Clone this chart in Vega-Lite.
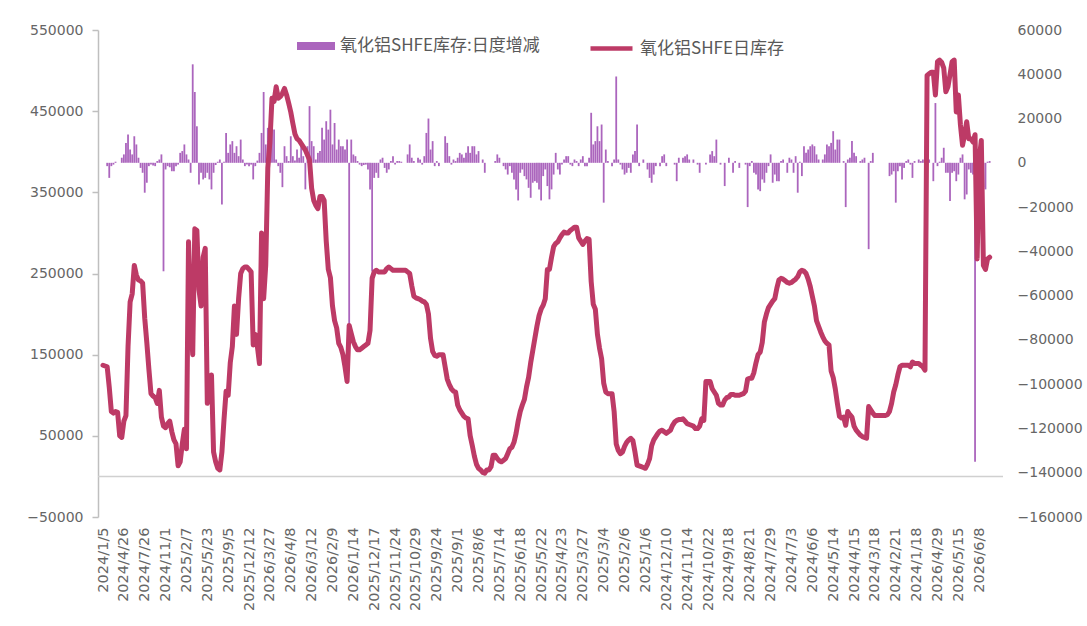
{
  "$schema": "https://vega.github.io/schema/vega-lite/v6.json",
  "width": 905,
  "height": 487,
  "autosize": {"type": "none"},
  "padding": {"left": 98, "top": 30, "right": 84, "bottom": 109},
  "background": "white",
  "config": {
    "view": {"stroke": null},
    "axis": {"labelFont": "DejaVu Sans", "labelFontSize": 14, "labelColor": "#666666", "grid": false, "title": null},
    "legend": {"labelFont": "Noto Sans CJK SC", "labelFontSize": 16, "labelColor": "#595959", "padding": 0, "offset": 0, "labelLimit": 400}
  },
  "datasets": {
    "line": [
      {"i":0,"v":137000},{"i":1,"v":136000},{"i":2,"v":135000},{"i":3,"v":110000},{"i":4,"v":80000},{"i":5,"v":78000},{"i":6,"v":80000},{"i":7,"v":79000},{"i":8,"v":50000},{"i":9,"v":48000},
      {"i":10,"v":68000},{"i":11,"v":75000},{"i":12,"v":160000},{"i":13,"v":215000},{"i":14,"v":225000},{"i":15,"v":260000},{"i":16,"v":248000},{"i":17,"v":242000},{"i":18,"v":241000},{"i":19,"v":238000},
      {"i":20,"v":195000},{"i":21,"v":165000},{"i":22,"v":132000},{"i":23,"v":102000},{"i":24,"v":99000},{"i":25,"v":97000},{"i":26,"v":90000},{"i":27,"v":106000},{"i":28,"v":73000},{"i":29,"v":62000},
      {"i":30,"v":60000},{"i":31,"v":65000},{"i":32,"v":68000},{"i":33,"v":55000},{"i":34,"v":45000},{"i":35,"v":40000},{"i":36,"v":13000},{"i":37,"v":18000},{"i":38,"v":40000},{"i":39,"v":58000},
      {"i":40,"v":34000},{"i":41,"v":289000},{"i":42,"v":200000},{"i":43,"v":150000},{"i":44,"v":305000},{"i":45,"v":303000},{"i":46,"v":230000},{"i":47,"v":210000},{"i":48,"v":270000},{"i":49,"v":281000},
      {"i":50,"v":90000},{"i":51,"v":100000},{"i":52,"v":125000},{"i":53,"v":30000},{"i":54,"v":18000},{"i":55,"v":10000},{"i":56,"v":8000},{"i":57,"v":30000},{"i":58,"v":70000},{"i":59,"v":105000},
      {"i":60,"v":100000},{"i":61,"v":140000},{"i":62,"v":160000},{"i":63,"v":210000},{"i":64,"v":175000},{"i":65,"v":219000},{"i":66,"v":250000},{"i":67,"v":256000},{"i":68,"v":258000},{"i":69,"v":258000},
      {"i":70,"v":255000},{"i":71,"v":252000},{"i":72,"v":162000},{"i":73,"v":175000},{"i":74,"v":160000},{"i":75,"v":139000},{"i":76,"v":300000},{"i":77,"v":219000},{"i":78,"v":260000},{"i":79,"v":380000},
      {"i":80,"v":412000},{"i":81,"v":466000},{"i":82,"v":462000},{"i":83,"v":480000},{"i":84,"v":466000},{"i":85,"v":468000},{"i":86,"v":472000},{"i":87,"v":478000},{"i":88,"v":470000},{"i":89,"v":460000},
      {"i":90,"v":449000},{"i":91,"v":435000},{"i":92,"v":422000},{"i":93,"v":416000},{"i":94,"v":414000},{"i":95,"v":410000},{"i":96,"v":406000},{"i":97,"v":402000},{"i":98,"v":396000},{"i":99,"v":390000},
      {"i":100,"v":355000},{"i":101,"v":340000},{"i":102,"v":334000},{"i":103,"v":330000},{"i":104,"v":345000},{"i":105,"v":345000},{"i":106,"v":340000},{"i":107,"v":290000},{"i":108,"v":255000},{"i":109,"v":245000},
      {"i":110,"v":210000},{"i":111,"v":192000},{"i":112,"v":183000},{"i":113,"v":164000},{"i":114,"v":159000},{"i":115,"v":150000},{"i":116,"v":135000},{"i":117,"v":117000},{"i":118,"v":186000},{"i":119,"v":176000},
      {"i":120,"v":166000},{"i":121,"v":160000},{"i":122,"v":156000},{"i":123,"v":156000},{"i":124,"v":158000},{"i":125,"v":160000},{"i":126,"v":162000},{"i":127,"v":164000},{"i":128,"v":180000},{"i":129,"v":244000},
      {"i":130,"v":252000},{"i":131,"v":254000},{"i":132,"v":252000},{"i":133,"v":252000},{"i":134,"v":252000},{"i":135,"v":252000},{"i":136,"v":256000},{"i":137,"v":258000},{"i":138,"v":256000},{"i":139,"v":254000},
      {"i":140,"v":254000},{"i":141,"v":254000},{"i":142,"v":254000},{"i":143,"v":254000},{"i":144,"v":254000},{"i":145,"v":254000},{"i":146,"v":252000},{"i":147,"v":250000},{"i":148,"v":235000},{"i":149,"v":222000},
      {"i":150,"v":220000},{"i":151,"v":219000},{"i":152,"v":218000},{"i":153,"v":216000},{"i":154,"v":215000},{"i":155,"v":212000},{"i":156,"v":200000},{"i":157,"v":170000},{"i":158,"v":154000},{"i":159,"v":149000},
      {"i":160,"v":148000},{"i":161,"v":150000},{"i":162,"v":150000},{"i":163,"v":150000},{"i":164,"v":135000},{"i":165,"v":120000},{"i":166,"v":113000},{"i":167,"v":108000},{"i":168,"v":105000},{"i":169,"v":104000},
      {"i":170,"v":88000},{"i":171,"v":82000},{"i":172,"v":78000},{"i":173,"v":74000},{"i":174,"v":72000},{"i":175,"v":71000},{"i":176,"v":50000},{"i":177,"v":38000},{"i":178,"v":25000},{"i":179,"v":15000},
      {"i":180,"v":10000},{"i":181,"v":8000},{"i":182,"v":5000},{"i":183,"v":4000},{"i":184,"v":8000},{"i":185,"v":8000},{"i":186,"v":12000},{"i":187,"v":26000},{"i":188,"v":26000},{"i":189,"v":22000},
      {"i":190,"v":19000},{"i":191,"v":18000},{"i":192,"v":20000},{"i":193,"v":22000},{"i":194,"v":28000},{"i":195,"v":34000},{"i":196,"v":36000},{"i":197,"v":42000},{"i":198,"v":53000},{"i":199,"v":68000},
      {"i":200,"v":80000},{"i":201,"v":88000},{"i":202,"v":95000},{"i":203,"v":110000},{"i":204,"v":122000},{"i":205,"v":140000},{"i":206,"v":155000},{"i":207,"v":170000},{"i":208,"v":185000},{"i":209,"v":198000},
      {"i":210,"v":206000},{"i":211,"v":211000},{"i":212,"v":219000},{"i":213,"v":255000},{"i":214,"v":255000},{"i":215,"v":270000},{"i":216,"v":283000},{"i":217,"v":287000},{"i":218,"v":289000},{"i":219,"v":294000},
      {"i":220,"v":298000},{"i":221,"v":301000},{"i":222,"v":300000},{"i":223,"v":300000},{"i":224,"v":303000},{"i":225,"v":305000},{"i":226,"v":307000},{"i":227,"v":307000},{"i":228,"v":294000},{"i":229,"v":290000},
      {"i":230,"v":286000},{"i":231,"v":290000},{"i":232,"v":293000},{"i":233,"v":292000},{"i":234,"v":240000},{"i":235,"v":212000},{"i":236,"v":206000},{"i":237,"v":175000},{"i":238,"v":158000},{"i":239,"v":145000},
      {"i":240,"v":115000},{"i":241,"v":104000},{"i":242,"v":102000},{"i":243,"v":102000},{"i":244,"v":102000},{"i":245,"v":80000},{"i":246,"v":40000},{"i":247,"v":32000},{"i":248,"v":28000},{"i":249,"v":30000},
      {"i":250,"v":37000},{"i":251,"v":42000},{"i":252,"v":45000},{"i":253,"v":47000},{"i":254,"v":44000},{"i":255,"v":30000},{"i":256,"v":14000},{"i":257,"v":13000},{"i":258,"v":12000},{"i":259,"v":11000},
      {"i":260,"v":10000},{"i":261,"v":15000},{"i":262,"v":22000},{"i":263,"v":38000},{"i":264,"v":45000},{"i":265,"v":49000},{"i":266,"v":53000},{"i":267,"v":56000},{"i":268,"v":57000},{"i":269,"v":55000},
      {"i":270,"v":53000},{"i":271,"v":55000},{"i":272,"v":57000},{"i":273,"v":63000},{"i":274,"v":67000},{"i":275,"v":69000},{"i":276,"v":70000},{"i":277,"v":70000},{"i":278,"v":71000},{"i":279,"v":68000},
      {"i":280,"v":65000},{"i":281,"v":64000},{"i":282,"v":63000},{"i":283,"v":62000},{"i":284,"v":59000},{"i":285,"v":59000},{"i":286,"v":62000},{"i":287,"v":71000},{"i":288,"v":69000},{"i":289,"v":117000},
      {"i":290,"v":117000},{"i":291,"v":117000},{"i":292,"v":108000},{"i":293,"v":104000},{"i":294,"v":100000},{"i":295,"v":90000},{"i":296,"v":88000},{"i":297,"v":88000},{"i":298,"v":94000},{"i":299,"v":97000},
      {"i":300,"v":98000},{"i":301,"v":101000},{"i":302,"v":101000},{"i":303,"v":100000},{"i":304,"v":100000},{"i":305,"v":100000},{"i":306,"v":101000},{"i":307,"v":102000},{"i":308,"v":105000},{"i":309,"v":120000},
      {"i":310,"v":121000},{"i":311,"v":121000},{"i":312,"v":128000},{"i":313,"v":140000},{"i":314,"v":150000},{"i":315,"v":153000},{"i":316,"v":165000},{"i":317,"v":190000},{"i":318,"v":200000},{"i":319,"v":208000},
      {"i":320,"v":212000},{"i":321,"v":216000},{"i":322,"v":219000},{"i":323,"v":232000},{"i":324,"v":242000},{"i":325,"v":244000},{"i":326,"v":243000},{"i":327,"v":241000},{"i":328,"v":239000},{"i":329,"v":238000},
      {"i":330,"v":239000},{"i":331,"v":241000},{"i":332,"v":243000},{"i":333,"v":246000},{"i":334,"v":252000},{"i":335,"v":254000},{"i":336,"v":253000},{"i":337,"v":250000},{"i":338,"v":243000},{"i":339,"v":234000},
      {"i":340,"v":222000},{"i":341,"v":210000},{"i":342,"v":192000},{"i":343,"v":185000},{"i":344,"v":178000},{"i":345,"v":172000},{"i":346,"v":167000},{"i":347,"v":164000},{"i":348,"v":162000},{"i":349,"v":130000},
      {"i":350,"v":122000},{"i":351,"v":108000},{"i":352,"v":90000},{"i":353,"v":74000},{"i":354,"v":72000},{"i":355,"v":73000},{"i":356,"v":63000},{"i":357,"v":80000},{"i":358,"v":76000},{"i":359,"v":73000},
      {"i":360,"v":62000},{"i":361,"v":57000},{"i":362,"v":54000},{"i":363,"v":51000},{"i":364,"v":49000},{"i":365,"v":48000},{"i":366,"v":47000},{"i":367,"v":86000},{"i":368,"v":82000},{"i":369,"v":78000},
      {"i":370,"v":75000},{"i":371,"v":75000},{"i":372,"v":75000},{"i":373,"v":75000},{"i":374,"v":75000},{"i":375,"v":75000},{"i":376,"v":76000},{"i":377,"v":80000},{"i":378,"v":90000},{"i":379,"v":104000},
      {"i":380,"v":113000},{"i":381,"v":125000},{"i":382,"v":135000},{"i":383,"v":137000},{"i":384,"v":137000},{"i":385,"v":137000},{"i":386,"v":137000},{"i":387,"v":135000},{"i":388,"v":141000},{"i":389,"v":139000},
      {"i":390,"v":139000},{"i":391,"v":139000},{"i":392,"v":137000},{"i":393,"v":135000},{"i":394,"v":131000},{"i":395,"v":494000},{"i":396,"v":496000},{"i":397,"v":498000},{"i":398,"v":498000},{"i":399,"v":470000},
      {"i":400,"v":511000},{"i":401,"v":513000},{"i":402,"v":510000},{"i":403,"v":503000},{"i":404,"v":474000},{"i":405,"v":480000},{"i":406,"v":495000},{"i":407,"v":511000},{"i":408,"v":513000},{"i":409,"v":449000},
      {"i":410,"v":470000},{"i":411,"v":433000},{"i":412,"v":408000},{"i":413,"v":421000},{"i":414,"v":437000},{"i":415,"v":416000},{"i":416,"v":416000},{"i":417,"v":412000},{"i":418,"v":421000},{"i":419,"v":268000},
      {"i":420,"v":390000},{"i":421,"v":414000},{"i":422,"v":260000},{"i":423,"v":255000},{"i":424,"v":268000},{"i":425,"v":270000}
    ],
    "bars": [
      {"i":2,"b":-1500},{"i":3,"b":-6800},{"i":4,"b":-1500},{"i":5,"b":-800},{"i":6,"b":500},{"i":9,"b":2300},{"i":10,"b":3800},{"i":11,"b":9000},{"i":12,"b":12800},{"i":13,"b":6000},
      {"i":14,"b":3800},{"i":15,"b":12000},{"i":16,"b":8300},{"i":17,"b":2300},{"i":18,"b":-2300},{"i":19,"b":-4500},{"i":20,"b":-13500},{"i":21,"b":-9000},{"i":22,"b":-1500},{"i":23,"b":-800},
      {"i":24,"b":-1200},{"i":25,"b":-1500},{"i":26,"b":800},{"i":27,"b":1500},{"i":28,"b":3800},{"i":29,"b":-49000},{"i":30,"b":-3000},{"i":31,"b":-1500},{"i":32,"b":-2000},{"i":33,"b":-3800},
      {"i":34,"b":-3800},{"i":35,"b":-1500},{"i":36,"b":-800},{"i":37,"b":4500},{"i":38,"b":5300},{"i":39,"b":8300},{"i":40,"b":3800},{"i":41,"b":1500},{"i":42,"b":-4500},{"i":43,"b":44500},
      {"i":44,"b":32000},{"i":45,"b":16500},{"i":46,"b":-9800},{"i":47,"b":-4500},{"i":48,"b":-7500},{"i":49,"b":-6800},{"i":50,"b":-4500},{"i":51,"b":-7500},{"i":52,"b":-12000},{"i":53,"b":-4500},
      {"i":54,"b":-1000},{"i":55,"b":500},{"i":56,"b":1500},{"i":57,"b":-18800},{"i":58,"b":500},{"i":59,"b":13500},{"i":60,"b":4500},{"i":61,"b":8300},{"i":62,"b":9800},{"i":63,"b":4500},
      {"i":64,"b":7500},{"i":65,"b":3000},{"i":66,"b":10500},{"i":67,"b":1500},{"i":68,"b":-1500},{"i":69,"b":-800},{"i":70,"b":-1500},{"i":71,"b":-800},{"i":72,"b":-7500},{"i":73,"b":-1500},
      {"i":74,"b":1000},{"i":75,"b":4500},{"i":76,"b":13500},{"i":77,"b":32000},{"i":78,"b":8300},{"i":79,"b":15800},{"i":80,"b":12000},{"i":81,"b":21000},{"i":82,"b":15000},{"i":83,"b":1500},
      {"i":84,"b":-1500},{"i":85,"b":-4500},{"i":86,"b":-11000},{"i":87,"b":7500},{"i":88,"b":3000},{"i":89,"b":800},{"i":90,"b":12000},{"i":91,"b":3000},{"i":92,"b":1000},{"i":93,"b":6000},
      {"i":94,"b":2300},{"i":95,"b":9000},{"i":96,"b":3000},{"i":97,"b":-12000},{"i":98,"b":7500},{"i":99,"b":25600},{"i":100,"b":9800},{"i":101,"b":7500},{"i":102,"b":1500},{"i":103,"b":4500},
      {"i":104,"b":5300},{"i":105,"b":15800},{"i":106,"b":10500},{"i":107,"b":18800},{"i":108,"b":15000},{"i":109,"b":24000},{"i":110,"b":8300},{"i":111,"b":18000},{"i":112,"b":6000},{"i":113,"b":10500},
      {"i":114,"b":7500},{"i":115,"b":7500},{"i":116,"b":6000},{"i":117,"b":10500},{"i":118,"b":-73000},{"i":119,"b":10500},{"i":120,"b":3800},{"i":121,"b":3000},{"i":122,"b":800},{"i":123,"b":-800},
      {"i":124,"b":-1500},{"i":125,"b":-1000},{"i":126,"b":-800},{"i":127,"b":-3000},{"i":128,"b":-12000},{"i":129,"b":-49000},{"i":130,"b":-6800},{"i":131,"b":-4500},{"i":132,"b":-6800},{"i":133,"b":1500},
      {"i":134,"b":2300},{"i":135,"b":-2300},{"i":136,"b":-4500},{"i":137,"b":-3000},{"i":138,"b":800},{"i":139,"b":3000},{"i":140,"b":-800},{"i":141,"b":800},{"i":142,"b":800},{"i":143,"b":500},
      {"i":146,"b":3800},{"i":147,"b":8300},{"i":148,"b":2300},{"i":149,"b":800},{"i":151,"b":2300},{"i":152,"b":1500},{"i":153,"b":-800},{"i":154,"b":3000},{"i":155,"b":13500},{"i":156,"b":20000},
      {"i":157,"b":6000},{"i":158,"b":9800},{"i":159,"b":-1500},{"i":160,"b":800},{"i":161,"b":-1500},{"i":164,"b":12000},{"i":165,"b":9000},{"i":166,"b":3000},{"i":167,"b":-800},{"i":168,"b":1500},
      {"i":169,"b":800},{"i":170,"b":2300},{"i":171,"b":4500},{"i":172,"b":3800},{"i":173,"b":2300},{"i":174,"b":4500},{"i":175,"b":7500},{"i":176,"b":4500},{"i":177,"b":7500},{"i":178,"b":7500},
      {"i":179,"b":3800},{"i":180,"b":5300},{"i":182,"b":1500},{"i":183,"b":-4500},{"i":188,"b":800},{"i":189,"b":3800},{"i":190,"b":2300},{"i":192,"b":-1500},{"i":193,"b":-3000},{"i":194,"b":-5300},
      {"i":195,"b":-1500},{"i":196,"b":-4500},{"i":197,"b":-7500},{"i":198,"b":-12000},{"i":199,"b":-17000},{"i":200,"b":-4500},{"i":201,"b":-3000},{"i":202,"b":-6000},{"i":203,"b":-7500},{"i":204,"b":-11300},
      {"i":205,"b":-15800},{"i":206,"b":-9000},{"i":207,"b":-8300},{"i":208,"b":-9000},{"i":209,"b":-12000},{"i":210,"b":-17000},{"i":211,"b":-6000},{"i":212,"b":-3000},{"i":213,"b":-10500},{"i":214,"b":-16500},
      {"i":215,"b":-12000},{"i":216,"b":-5300},{"i":217,"b":4500},{"i":218,"b":-3000},{"i":219,"b":-5300},{"i":220,"b":-800},{"i":221,"b":1500},{"i":222,"b":3000},{"i":223,"b":3000},{"i":224,"b":-800},
      {"i":225,"b":-1500},{"i":226,"b":1500},{"i":227,"b":800},{"i":228,"b":-1500},{"i":229,"b":1500},{"i":230,"b":3000},{"i":231,"b":-1500},{"i":232,"b":-1500},{"i":233,"b":2300},{"i":234,"b":22600},
      {"i":235,"b":8300},{"i":236,"b":9800},{"i":237,"b":16500},{"i":238,"b":9800},{"i":239,"b":17300},{"i":240,"b":-18000},{"i":241,"b":6000},{"i":242,"b":800},{"i":244,"b":-1500},{"i":245,"b":1500},
      {"i":246,"b":39000},{"i":247,"b":1500},{"i":248,"b":-800},{"i":249,"b":-3000},{"i":250,"b":-5300},{"i":251,"b":-4500},{"i":252,"b":-2300},{"i":253,"b":-4500},{"i":254,"b":3800},{"i":255,"b":5300},
      {"i":256,"b":17300},{"i":257,"b":-1500},{"i":259,"b":1500},{"i":261,"b":-3000},{"i":262,"b":-6800},{"i":263,"b":-9000},{"i":264,"b":-5300},{"i":265,"b":-1500},{"i":267,"b":-1500},{"i":268,"b":3000},
      {"i":269,"b":3800},{"i":270,"b":-1500},{"i":274,"b":-800},{"i":275,"b":-8300},{"i":276,"b":2300},{"i":278,"b":2300},{"i":279,"b":3000},{"i":280,"b":3800},{"i":281,"b":1500},{"i":283,"b":1500},
      {"i":285,"b":-800},{"i":286,"b":-4500},{"i":289,"b":-800},{"i":291,"b":3800},{"i":292,"b":5300},{"i":293,"b":3000},{"i":294,"b":10500},{"i":296,"b":-800},{"i":298,"b":-10500},{"i":300,"b":2300},
      {"i":302,"b":-4500},{"i":303,"b":800},{"i":305,"b":-2300},{"i":308,"b":-800},{"i":309,"b":-20000},{"i":310,"b":-1500},{"i":311,"b":800},{"i":312,"b":-4500},{"i":313,"b":-5300},{"i":314,"b":-12000},
      {"i":315,"b":-12800},{"i":316,"b":-7500},{"i":317,"b":-9000},{"i":318,"b":-4500},{"i":319,"b":-1500},{"i":320,"b":3800},{"i":321,"b":-9000},{"i":322,"b":-5300},{"i":323,"b":-8300},{"i":324,"b":-8300},
      {"i":325,"b":800},{"i":326,"b":1500},{"i":328,"b":-4500},{"i":329,"b":2300},{"i":330,"b":1500},{"i":331,"b":-4500},{"i":332,"b":3000},{"i":333,"b":-13500},{"i":334,"b":500},{"i":335,"b":-6000},
      {"i":336,"b":7500},{"i":337,"b":4500},{"i":338,"b":6000},{"i":339,"b":7500},{"i":340,"b":8300},{"i":341,"b":7500},{"i":342,"b":3800},{"i":343,"b":1500},{"i":345,"b":1500},{"i":346,"b":3800},
      {"i":347,"b":8300},{"i":348,"b":7500},{"i":349,"b":9000},{"i":350,"b":14300},{"i":351,"b":6000},{"i":352,"b":10500},{"i":353,"b":10500},{"i":355,"b":800},{"i":356,"b":-20000},{"i":357,"b":1500},
      {"i":358,"b":2300},{"i":359,"b":9800},{"i":360,"b":4500},{"i":361,"b":3000},{"i":363,"b":800},{"i":364,"b":1500},{"i":365,"b":2300},{"i":367,"b":-39000},{"i":368,"b":800},{"i":369,"b":4500},
      {"i":377,"b":-6000},{"i":378,"b":-5300},{"i":379,"b":-3800},{"i":380,"b":-18000},{"i":381,"b":-3800},{"i":382,"b":-1500},{"i":383,"b":-7500},{"i":384,"b":-2300},{"i":385,"b":800},{"i":386,"b":1500},
      {"i":387,"b":-800},{"i":388,"b":-6800},{"i":389,"b":800},{"i":391,"b":1500},{"i":392,"b":800},{"i":393,"b":1500},{"i":395,"b":-800},{"i":396,"b":1500},{"i":398,"b":-8300},{"i":399,"b":27000},
      {"i":400,"b":-1500},{"i":401,"b":500},{"i":402,"b":2300},{"i":403,"b":6800},{"i":404,"b":-4500},{"i":405,"b":-4500},{"i":406,"b":-17300},{"i":407,"b":-4500},{"i":408,"b":-3800},{"i":409,"b":-8300},
      {"i":410,"b":-5300},{"i":411,"b":2300},{"i":412,"b":3800},{"i":413,"b":-16500},{"i":414,"b":-14300},{"i":415,"b":-3000},{"i":416,"b":-4500},{"i":417,"b":-5300},{"i":418,"b":-135000},{"i":419,"b":-3000},
      {"i":420,"b":-3000},{"i":421,"b":-3000},{"i":422,"b":-11000},{"i":423,"b":-12000},{"i":424,"b":500},{"i":425,"b":800}
    ]
  },
  "layer": [
    {
      "data": {"name": "bars"},
      "mark": {"type": "bar", "size": 1.8},
      "encoding": {
        "x": {"field": "i", "type": "quantitative", "scale": {"domain": [0, 429], "nice": false, "zero": false},
          "axis": {
            "values": [0,10,20,30,40,50,60,70,80,90,100,110,120,130,140,150,160,170,180,190,200,210,220,230,240,250,260,270,280,290,300,310,320,330,340,350,360,370,380,390,400,410,420],
            "labelExpr": "['2024/1/5','2024/4/26','2024/7/26','2024/11/1','2025/2/7','2025/5/23','2025/9/5','2025/12/12','2026/3/27','2026/4/8','2026/3/12','2026/2/9','2026/1/14','2025/12/17','2025/11/24','2025/10/29','2025/9/24','2025/9/1','2025/8/6','2025/7/14','2025/6/18','2025/5/22','2025/4/23','2025/3/27','2025/3/4','2025/2/6','2025/1/6','2024/12/10','2024/11/14','2024/10/22','2024/9/18','2024/8/21','2024/7/29','2024/7/3','2024/6/6','2024/5/14','2024/4/15','2024/3/18','2024/2/21','2024/1/18','2026/4/29','2026/5/15','2026/6/8'][round(datum.value/10)]",
            "labelAngle": -90, "domain": false, "ticks": false, "labelPadding": 10,
            "labelOverlap": false, "labelFlush": false, "labelBound": false, "labelFontSize": 14.5
          }
        },
        "y": {"field": "b", "type": "quantitative", "scale": {"domain": [-160000, 60000], "nice": false, "zero": false},
          "axis": {"orient": "right", "values": [-160000,-140000,-120000,-100000,-80000,-60000,-40000,-20000,0,20000,40000,60000], "format": "d", "domain": false, "ticks": false, "labelPadding": 14}
        },
        "fill": {"datum": "氧化铝SHFE库存:日度增减", "scale": {"range": ["#AB65BD"]},
          "legend": {"orient": "none", "legendX": 199, "legendY": -3, "title": null, "symbolType": "M-1,-0.21H1V0.21H-1Z", "symbolSize": 1444, "symbolStrokeWidth": 0, "labelOffset": 5, "labelFontSize": 17, "labelLimit": 400}
        }
      }
    },
    {
      "layer": [
        {
          "data": {"values": [{}]},
          "mark": {"type": "rule", "color": "#D0D0D0", "strokeWidth": 1.5},
          "encoding": {
            "y": {"datum": 0, "type": "quantitative", "scale": {"domain": [-50000, 550000], "nice": false, "zero": false},
              "axis": {"orient": "left", "values": [-50000,50000,150000,250000,350000,450000,550000], "format": "d", "domain": true, "domainColor": "#BFBFBF", "domainWidth": 1.5, "ticks": true, "tickColor": "#BFBFBF", "tickSize": 6, "tickWidth": 1.5, "labelPadding": 9}
            }
          }
        },
        {
          "data": {"name": "line"},
          "mark": {"type": "line", "strokeWidth": 5, "strokeJoin": "round", "strokeCap": "round"},
          "encoding": {
            "x": {"field": "i", "type": "quantitative", "scale": {"domain": [0, 429], "nice": false, "zero": false},
              "axis": {
                "values": [0,10,20,30,40,50,60,70,80,90,100,110,120,130,140,150,160,170,180,190,200,210,220,230,240,250,260,270,280,290,300,310,320,330,340,350,360,370,380,390,400,410,420],
                "labelExpr": "['2024/1/5','2024/4/26','2024/7/26','2024/11/1','2025/2/7','2025/5/23','2025/9/5','2025/12/12','2026/3/27','2026/4/8','2026/3/12','2026/2/9','2026/1/14','2025/12/17','2025/11/24','2025/10/29','2025/9/24','2025/9/1','2025/8/6','2025/7/14','2025/6/18','2025/5/22','2025/4/23','2025/3/27','2025/3/4','2025/2/6','2025/1/6','2024/12/10','2024/11/14','2024/10/22','2024/9/18','2024/8/21','2024/7/29','2024/7/3','2024/6/6','2024/5/14','2024/4/15','2024/3/18','2024/2/21','2024/1/18','2026/4/29','2026/5/15','2026/6/8'][round(datum.value/10)]",
                "labelAngle": -90, "domain": false, "ticks": false, "labelPadding": 10,
                "labelOverlap": false, "labelFlush": false, "labelBound": false, "labelFontSize": 14.5
              }
            },
            "y": {"field": "v", "type": "quantitative", "scale": {"domain": [-50000, 550000], "nice": false, "zero": false},
              "axis": {"orient": "left", "values": [-50000,50000,150000,250000,350000,450000,550000], "format": "d", "domain": true, "domainColor": "#BFBFBF", "domainWidth": 1.5, "ticks": true, "tickColor": "#BFBFBF", "tickSize": 6, "tickWidth": 1.5, "labelPadding": 9}
            },
            "stroke": {"datum": "氧化铝SHFE日库存", "scale": {"range": ["#BD3A66"]},
              "legend": {"orient": "none", "legendX": 490, "legendY": -5, "title": null, "symbolType": "stroke", "symbolSize": 1764, "symbolStrokeWidth": 4.5, "labelOffset": 5, "labelFontSize": 17, "labelLimit": 400}
            }
          }
        }
      ]
    }
  ],
  "resolve": {"scale": {"y": "independent"}}
}
